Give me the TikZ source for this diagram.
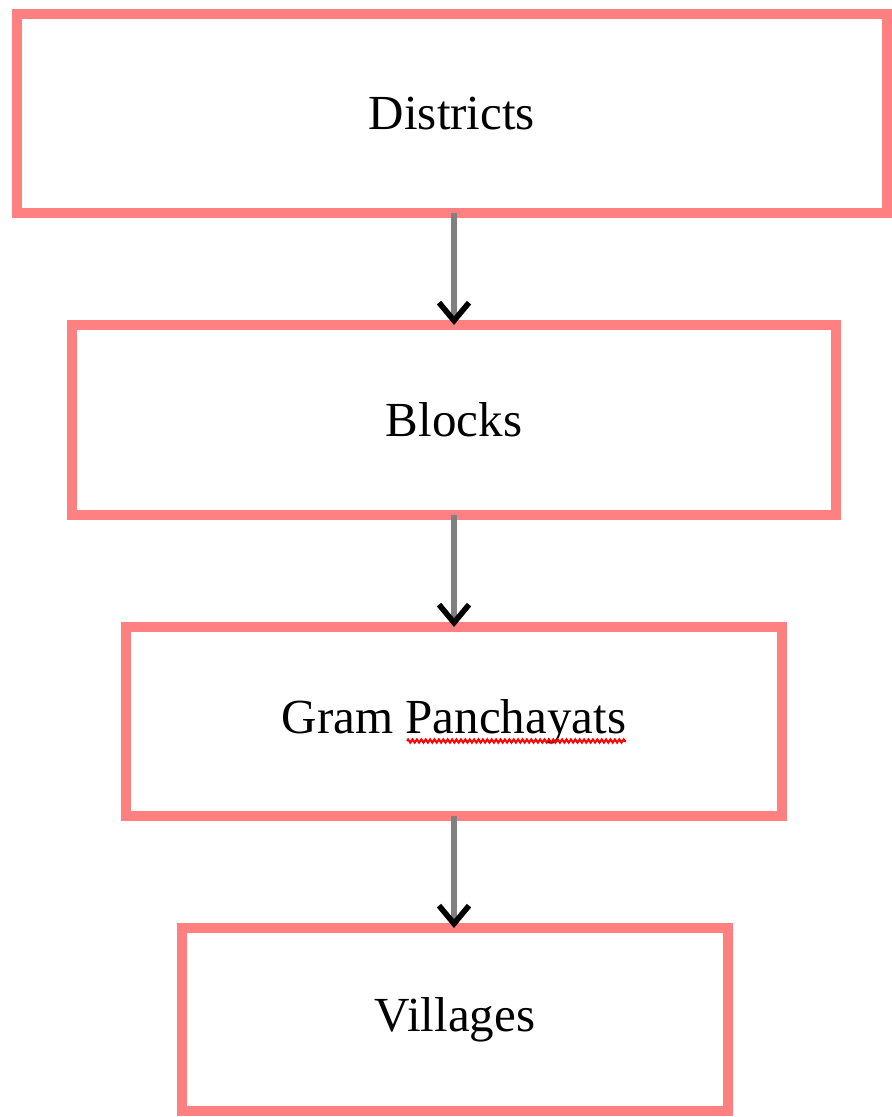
\documentclass[tikz,border=0pt]{standalone}
\usepackage{fontspec}
\setmainfont{Liberation Serif}
\usetikzlibrary{arrows.meta,decorations.pathmorphing}
\definecolor{boxpink}{HTML}{FF8080}
\tikzset{
	level/.style={draw=boxpink, line width=5pt, outer sep=0pt, inner sep=0pt, font=\fontsize{24.5}{29}\selectfont},
	down/.style={draw=gray, line width=3pt, -{Straight Barb[length=9pt,width=15pt,line width=2.8pt,color=black]}},
	spell/.style={draw=red, line width=1pt, decorate, decoration={zigzag, segment length=2.2pt, amplitude=0.8pt}}
}
\begin{document}
\begin{tikzpicture}[x=0.5pt,y=-0.5pt]
	\useasboundingbox (0,0) rectangle (891,1117);
	\node[level, minimum width=435pt, minimum height=99.5pt] (dist) at (452,113.5) {\raisebox{-1pt}{Districts}};
	\node[level, minimum width=382pt, minimum height=95pt] (blk) at (454,420) {\raisebox{-1pt}{Blocks}};
	\node[level, minimum width=328pt, minimum height=94.5pt] (gp) at (454,721.5) {\raisebox{-1pt}{Gram Panchayats}};
	\node[level, minimum width=273pt, minimum height=91.5pt] (vil) at (455,1019.5) {\raisebox{-1pt}{Villages}};
	%
	\draw[down] (dist.south -| 454,0) -- (blk.north);
	\draw[down] (blk.south) -- (gp.north);
	\draw[down] (gp.south) -- (vil.north -| 454,0);
	%
	\coordinate (sqL) at (407,741);
	\coordinate (sqR) at (626,741);
	\draw[spell] (sqL) -- (sqR);
\end{tikzpicture}
\end{document}
